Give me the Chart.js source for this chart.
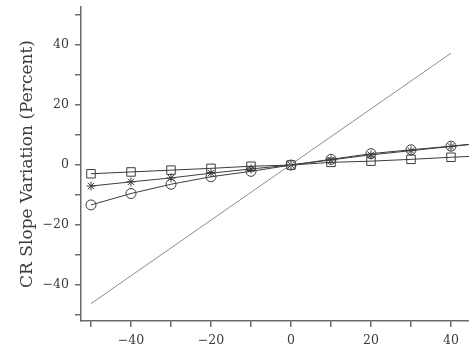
<!DOCTYPE html>
<html>
<head>
<meta charset="utf-8">
<script src="https://cdn.jsdelivr.net/npm/chart.js@4/dist/chart.umd.min.js"></script>
<style>
  html, body { margin: 0; padding: 0; background: #fff; }
  #wrap { width: 469px; height: 351px; }
</style>
</head>
<body>
<div id="wrap"><canvas id="chart" width="469" height="351"></canvas></div>
<script>
// data
const xs = [-50, -40, -30, -20, -10, 0, 10, 20, 30, 40, 50];
const squareVals = [-2.9, -2.3, -1.7, -1.1, -0.4, 0, 0.9, 1.3, 1.9, 2.6, 3.2];
const starVals   = [-7.0, -5.6, -4.3, -2.7, -1.3, 0, 1.7, 3.4, 4.8, 6.2, 7.6];
const circleVals = [-13.3, -9.5, -6.4, -3.9, -2.1, 0, 1.9, 3.8, 5.1, 6.3, 7.6];
const lineXs   = [-50, 40];
const lineVals = [-46.2, 37.3];
const yTicks = [-50, -40, -30, -20, -10, 0, 10, 20, 30, 40, 50];
const xTicks = [-50, -40, -30, -20, -10, 0, 10, 20, 30, 40];

const ink = '#3c3c3c';
const axisCol = '#6a6a6a';
const font = { family: 'DejaVu Serif', size: 12.5 };

const pts = (xv, yv) => xv.map((x, i) => ({ x: x, y: yv[i] }));
const minus = v => (v < 0 ? '\u2212' + Math.abs(v) : String(v));

function markerSet(data, style, radius) {
    return {
        data: data,
        borderColor: ink,
        borderWidth: 1,
        pointStyle: style,
        pointRadius: radius,
        pointBorderColor: ink,
        pointBackgroundColor: 'rgba(255,255,255,0)',
        pointBorderWidth: 1,
        tension: 0
    };
}

new Chart(document.getElementById('chart'), {
    type: 'line',
    data: {
        datasets: [
            {
                data: pts(lineXs, lineVals),
                borderColor: '#8c8c8c',
                borderWidth: 1,
                pointRadius: 0
            },
            markerSet(pts(xs, squareVals), 'rect', 6),
            markerSet(pts(xs, starVals), 'star', 4.5),
            markerSet(pts(xs, circleVals), 'circle', 5)
        ]
    },
    options: {
        responsive: false,
        animation: false,
        layout: { autoPadding: false, padding: { top: 7, right: 0, bottom: 0, left: 0 } },
        plugins: { legend: { display: false }, tooltip: { enabled: false } },
        scales: {
            x: {
                type: 'linear',
                min: -52.5,
                max: 44.5,
                afterBuildTicks: s => { s.ticks = xTicks.map(v => ({ value: v })); },
                afterFit: s => { s.height = 30; s.paddingLeft = 0; s.paddingRight = 0; },
                border: { color: axisCol, width: 1.5 },
                grid: { drawOnChartArea: false, drawTicks: true, tickLength: 6, color: axisCol, lineWidth: 1.5 },
                ticks: {
                    color: ink, font: font, padding: 6, maxRotation: 0, autoSkip: false,
                    callback: v => (v % 20 === 0 ? minus(v) : '')
                }
            },
            y: {
                min: -52,
                max: 52.7,
                afterBuildTicks: s => { s.ticks = yTicks.map(v => ({ value: v })); },
                afterFit: s => { s.width = 81; s.paddingTop = 0; s.paddingBottom = 0; },
                border: { color: axisCol, width: 1.5 },
                grid: { drawOnChartArea: false, drawTicks: true, tickLength: 6, color: axisCol, lineWidth: 1.5 },
                ticks: {
                    color: ink, font: font, padding: 6, autoSkip: false,
                    callback: v => (v % 20 === 0 ? minus(v) : '')
                },
                title: {
                    display: true,
                    text: 'CR Slope Variation (Percent)',
                    color: ink,
                    font: { family: 'DejaVu Serif', size: 17 },
                    padding: { top: 17, bottom: 0 }
                }
            }
        }
    }
});
</script>
</body>
</html>
